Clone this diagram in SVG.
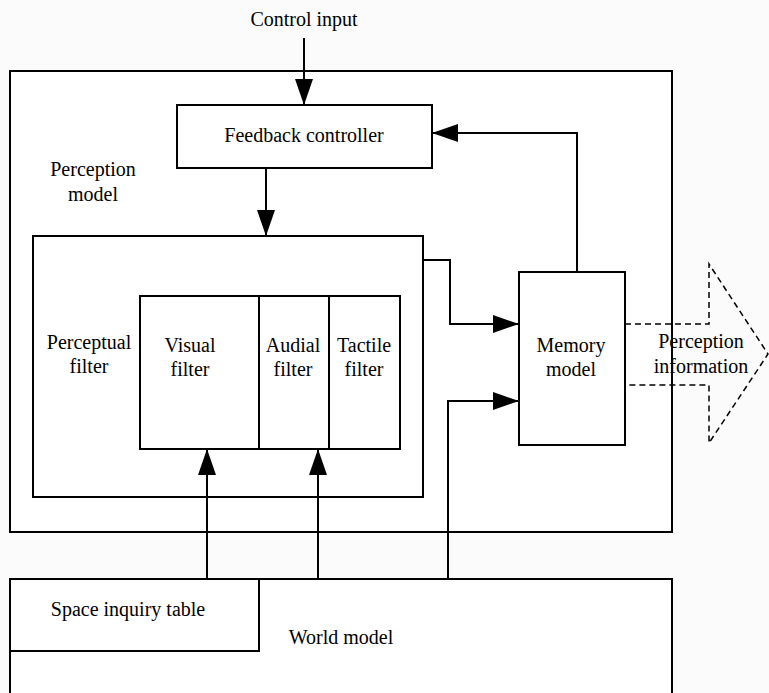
<svg xmlns="http://www.w3.org/2000/svg" width="769" height="693" viewBox="0 0 769 693">
<defs>
<style>
.box{fill:#ffffff;stroke:#000;stroke-width:2}
.ln{fill:none;stroke:#000;stroke-width:2}
.dash{fill:none;stroke:#000;stroke-width:1.5;stroke-dasharray:6 4}
.t{font-family:"Liberation Serif","DejaVu Serif",serif;font-size:20px;fill:#000;text-anchor:middle}
</style>
<marker id="ah" markerUnits="userSpaceOnUse" markerWidth="27" markerHeight="18" refX="26" refY="9" orient="auto">
<path d="M0,0 L26,9 L0,18 z" fill="#000"/>
</marker>
</defs>
<rect x="0" y="0" width="769" height="693" fill="#fbfbfb"/>
<g id="perception-model">
<rect class="box" x="10" y="71" width="662" height="461"/>
<text class="t" x="93" y="176">Perception</text>
<text class="t" x="93" y="201">model</text>
</g>
<g id="world-model">
<rect class="box" x="10" y="579" width="662" height="130"/>
<text class="t" x="341" y="644">World model</text>
</g>
<g id="space-inquiry-table">
<rect class="box" x="10" y="579" width="249" height="72"/>
<text class="t" x="128" y="616">Space inquiry table</text>
</g>
<g id="control-input">
<text class="t" x="304" y="26">Control input</text>
</g>
<g id="feedback-controller">
<rect class="box" x="177" y="105" width="255" height="63"/>
<text class="t" x="304" y="142">Feedback controller</text>
</g>
<g id="perceptual-filter">
<rect class="box" x="33" y="236" width="390" height="261"/>
<text class="t" x="89" y="349">Perceptual</text>
<text class="t" x="89" y="373">filter</text>
</g>
<g id="visual-filter">
<rect class="box" x="140" y="296" width="119" height="153"/>
<text class="t" x="190" y="352">Visual</text>
<text class="t" x="190" y="376">filter</text>
</g>
<g id="audial-filter">
<rect class="box" x="259" y="296" width="70" height="153"/>
<text class="t" x="293" y="352">Audial</text>
<text class="t" x="293" y="376">filter</text>
</g>
<g id="tactile-filter">
<rect class="box" x="329" y="296" width="71" height="153"/>
<text class="t" x="364" y="352">Tactile</text>
<text class="t" x="364" y="376">filter</text>
</g>
<g id="memory-model">
<rect class="box" x="519" y="272" width="106" height="173"/>
<text class="t" x="571" y="352">Memory</text>
<text class="t" x="571" y="376">model</text>
</g>
<g id="perception-information">
<polyline class="dash" points="625,324 709,324 709,264 768,354 709,443 709,385 625,385"/>
<text class="t" x="701" y="348">Perception</text>
<text class="t" x="701" y="373">information</text>
</g>
<g id="connectors">
<line class="ln" x1="304" y1="38" x2="304" y2="105" marker-end="url(#ah)"/>
<line class="ln" x1="266" y1="168" x2="266" y2="236" marker-end="url(#ah)"/>
<polyline class="ln" points="577,272 577,133 432,133" marker-end="url(#ah)"/>
<polyline class="ln" points="423,260 450,260 450,324 519,324" marker-end="url(#ah)"/>
<polyline class="ln" points="448,579 448,401 519,401" marker-end="url(#ah)"/>
<line class="ln" x1="207" y1="579" x2="207" y2="449" marker-end="url(#ah)"/>
<line class="ln" x1="318" y1="579" x2="318" y2="449" marker-end="url(#ah)"/>
</g>
</svg>
